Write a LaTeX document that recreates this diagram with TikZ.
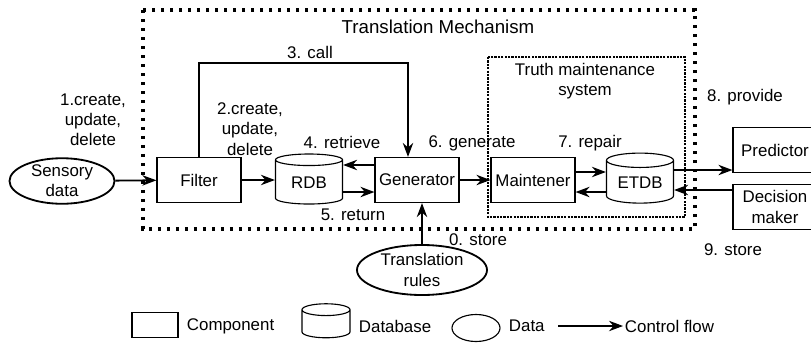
\documentclass[tikz,border=0pt]{standalone}
\usepackage{fontspec}
\setmainfont{Liberation Sans}
\usetikzlibrary{shapes.geometric,arrows.meta}
\def\boxw{2.1cm}
\def\boxh{1.125cm}

\begin{document}
\begin{tikzpicture}[x=0.025cm,y=-0.025cm,font=\fontsize{12}{14.4}\selectfont,line width=0.8pt]
    \tikzstyle{component}=[draw,rectangle,minimum width=\boxw,minimum height=\boxh,inner sep=1pt,align=center]
    \tikzstyle{database}=[draw,cylinder,shape border rotate=90,aspect=0.3,minimum width=1.675cm,minimum height=1.25cm,inner sep=1pt]
    \tikzstyle{data}=[draw,ellipse,line width=1.3pt,inner sep=0pt,align=center]
    \tikzstyle{flow}=[-{Stealth[length=0.35cm,width=0.26cm]},line width=1.3pt]
    \tikzstyle{annot}=[align=center,inner sep=1pt]

    \useasboundingbox (0,0) rectangle (811,343);

    % Draw the frames
    \draw[line width=2.2pt,dash pattern=on 2.2pt off 4.2pt] (143,10) rectangle (695,229);
    \node[annot,font=\fontsize{13.3}{16}\selectfont] (title) at (438,27) {Translation Mechanism};
    \draw[dash pattern=on 1.6pt off 0.8pt] (488,57) rectangle (685,217);
    \node[annot] (tms) at (585,81) {Truth maintenance\\system};

    % Draw the data, component and database nodes
    \node[data,minimum width=2.625cm,minimum height=0.925cm] (S) at (62,181) {Sensory\\data};
    \node[data,minimum width=3.25cm,minimum height=1.25cm] (R) at (422,270) {Translation\\rules};
    \foreach \name / \x in {Filter/199,Generator/417,Maintener/533}
        \node[component] (\name) at (\x,180) {\name};
    \node[database] (RDB) at (309,183) {RDB};
    \node[database] (ETDB) at (640,183) {ETDB};
    \node[component] (P) at (775,150) {Predictor};
    \node[component] (D) at (775,207) {Decision\\maker};

    % Connect the nodes
    \coordinate (top) at (0,63);
    \coordinate (c1) at ([xshift=-0.225cm]Generator.north);
    \coordinate (g1) at ([yshift=0.375cm]Generator.west);
    \coordinate (g2) at ([yshift=-0.3cm]Generator.west);
    \coordinate (m1) at ([yshift=0.2cm]Maintener.east);
    \coordinate (m2) at ([yshift=-0.3cm]Maintener.east);
    \coordinate (p1) at ([yshift=-0.5cm]P.west);
    \coordinate (d1) at ([yshift=0.425cm]D.west);
    \draw[flow] (S) -- (Filter);
    \draw[flow] (Filter.east) -- (Filter.east -| RDB.west);
    \draw[flow] (Filter.north) |- (c1 |- top) -- (c1);
    \draw[flow] (g1) -- (g1 -| RDB.east);
    \draw[flow] (g2 -| RDB.east) -- (g2);
    \draw[flow] (Generator) -- (Maintener);
    \draw[flow] (m1) -- (m1 -| ETDB.west);
    \draw[flow] (m2 -| ETDB.west) -- (m2);
    \draw[flow] (p1 -| ETDB.east) -- (p1);
    \draw[flow] (d1) -- (d1 -| ETDB.east);
    \draw[flow] (R.north) -- (R.north |- Generator.south);

    % Annotate the connectors
    \node[annot] (l1) at (93,120) {1.create,\\update,\\delete};
    \node[annot] (l2) at (250,129) {2.create,\\update,\\delete};
    \node[annot] (l3) at (310,52) {3. call};
    \node[annot] (l4) at (342,142) {4. retrieve};
    \node[annot] (l5) at (353,215) {5. return};
    \node[annot] (l6) at (472,143) {6. generate};
    \node[annot] (l7) at (590,143) {7. repair};
    \node[annot] (l8) at (745,97) {8. provide};
    \node[annot] (l9) at (733,250) {9. store};
    \node[annot] (l0) at (478,240) {0. store};

    % Draw the legend
    \node[component,minimum width=1.15cm,minimum height=0.625cm] (lc) at (155,325) {};
    \node[annot,anchor=west] (lct) at (185,326) {Component};
    \node[database,aspect=0.45,minimum width=1.2cm,minimum height=0.85cm] (ld) at (326,325) {\phantom{DB}};
    \node[annot,anchor=west] (ldt) at (357,326) {Database};
    \node[data,minimum width=1.2cm,minimum height=0.675cm,line width=0.8pt] (le) at (476,328) {};
    \node[annot,anchor=west] (let) at (507,326) {Data};
    \coordinate (la) at (558,326);
    \node[annot,anchor=west] (lat) at (623,326) {Control flow};
    \draw[flow,line width=0.8pt] (la) -- (lat);
\end{tikzpicture}
\end{document}
